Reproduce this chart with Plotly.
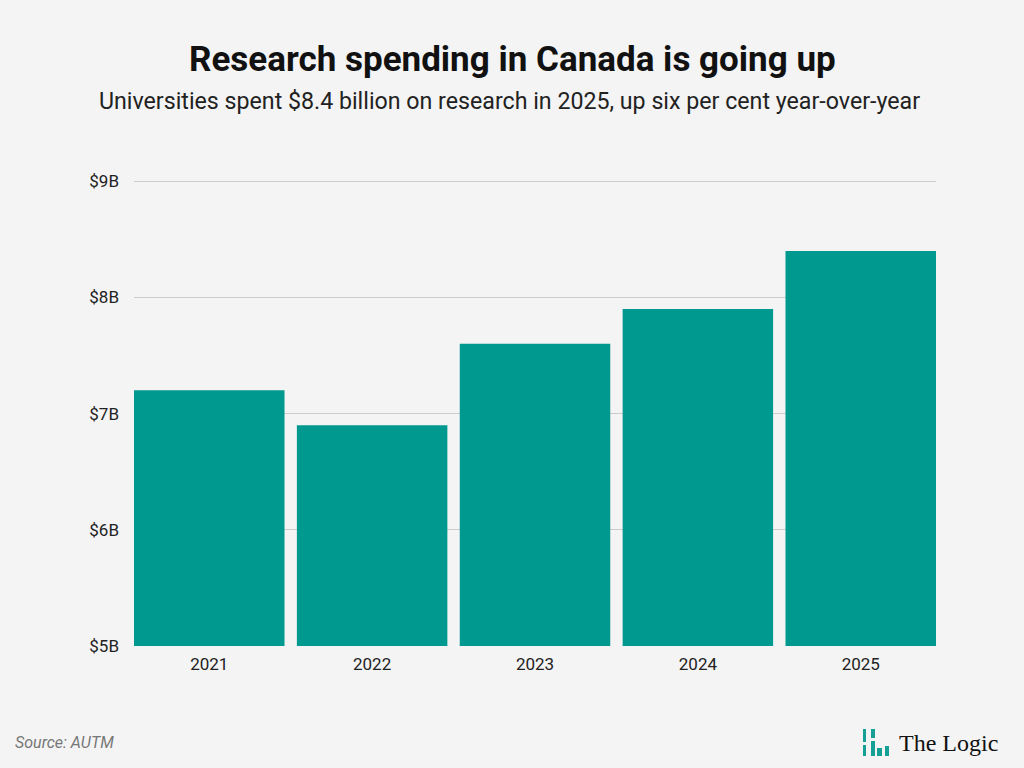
import plotly.graph_objects as go

years = ["2021", "2022", "2023", "2024", "2025"]
spending_b = [7.2, 6.9, 7.6, 7.9, 8.4]
tick_vals = [5, 6, 7, 8, 9]
tick_text = ["$5B", "$6B", "$7B", "$8B", "$9B"]

BG = "#f4f4f4"
TEAL = "#00998f"
GAP = 0.076

# plot area in pixels: x 134..936, y 181..646
L, R, T, B = 134, 88, 180, 122
PW, PH = 1024 - L - R, 768 - T - B


def px_x(x):
    return (x - L) / PW


def px_y(y):
    return (768 - B - y) / PH


fig = go.Figure(
    go.Bar(
        x=years,
        y=spending_b,
        marker=dict(color=TEAL, line=dict(width=0)),
        hoverinfo="x+y",
    )
)

fig.update_layout(
    width=1024,
    height=768,
    margin=dict(l=L, r=R, t=T, b=B),
    paper_bgcolor=BG,
    plot_bgcolor=BG,
    bargap=GAP,
    showlegend=False,
    font=dict(family="Roboto", color="#222222"),
)
# bars touch the plot edges
fig.update_xaxes(
    showgrid=False,
    showline=False,
    ticks="",
    tickfont=dict(size=17, color="#222222"),
    ticklabelstandoff=6,
    range=[-0.5 + GAP / 2, len(years) - 0.5 - GAP / 2],
)
# a little headroom so the $9B gridline is drawn
fig.update_yaxes(
    range=[5, 9.01],
    tickvals=tick_vals,
    ticktext=tick_text,
    showgrid=True,
    gridcolor="#cccccc",
    gridwidth=1,
    zeroline=False,
    tickfont=dict(size=17, color="#222222"),
    ticklabelstandoff=14,
)

fig.add_annotation(
    text="<b>Research spending in Canada is going up</b>",
    xref="paper", yref="paper", x=px_x(512), y=px_y(60),
    xanchor="center", yanchor="middle", showarrow=False,
    font=dict(family="Roboto", size=35, color="#111111"),
)
fig.add_annotation(
    text="Universities spent $8.4 billion on research in 2025, up six per cent year-over-year",
    xref="paper", yref="paper", x=px_x(509), y=px_y(101),
    xanchor="center", yanchor="middle", showarrow=False,
    font=dict(family="Roboto", size=23.2, color="#222222"),
)
fig.add_annotation(
    text="<i>Source: AUTM</i>",
    xref="paper", yref="paper", x=px_x(13), y=px_y(742),
    xanchor="left", yanchor="middle", showarrow=False,
    font=dict(family="Roboto", size=16, color="#777777"),
)

# logo
logo_rects = [
    (863, 729, 866, 742), (863, 745, 866, 756),
    (871, 729, 875, 738), (871, 741, 875, 756),
    (877, 748, 882, 756), (885, 746, 889, 756),
]
for x0, y0, x1, y1 in logo_rects:
    fig.add_shape(
        type="rect", xref="paper", yref="paper",
        x0=px_x(x0), x1=px_x(x1), y0=px_y(y1), y1=px_y(y0),
        fillcolor="#14a096", line=dict(width=0),
    )
fig.add_annotation(
    text="The Logic",
    xref="paper", yref="paper", x=px_x(897), y=px_y(743),
    xanchor="left", yanchor="middle", showarrow=False,
    font=dict(family="Liberation Serif", size=24, color="#111111"),
)

fig.write_html(
    "out.html",
    config={"displayModeBar": False},
    post_script="document.body.style.margin='0';",
)
